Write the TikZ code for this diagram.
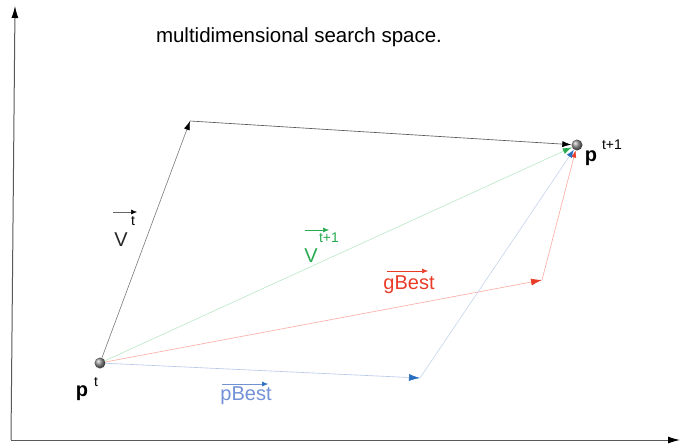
\documentclass[tikz,border=0pt]{standalone}
\usepackage{fontspec}
\setmainfont{Liberation Sans}
\usetikzlibrary{arrows.meta}
\definecolor{gtext}{RGB}{40,170,80}
\definecolor{gline}{RGB}{190,232,200}
\definecolor{rtext}{RGB}{232,60,40}
\definecolor{rline}{RGB}{250,175,165}
\definecolor{btext}{RGB}{115,145,215}
\definecolor{bhead}{RGB}{40,110,190}
\definecolor{bline}{RGB}{185,202,232}
\begin{document}
\begin{tikzpicture}[x=1pt,y=-1pt,
  axis/.style={draw=black!65,line width=1pt,-{Latex[length=12pt,width=7pt,black]}},
  vec/.style={line width=0.65pt,-{Latex[length=9pt,width=6pt]}},
  small/.style={line width=0.5pt,-{Latex[length=6pt,width=4pt]}},
  ball/.style={circle,inner sep=0pt,minimum size=11pt,ball color=black!45},
  lbl/.style={inner sep=0pt,font=\fontsize{20}{22}\selectfont},
  sup/.style={inner sep=0pt,font=\fontsize{14}{16}\selectfont}]
\useasboundingbox (0,0) rectangle (680,445);
% axes
\coordinate (o) at (11,440);
\coordinate (ytop) at (15,6);
\coordinate (xend) at (680,440);
\draw[axis] (o) -- (ytop);
\draw[axis] (o) -- (xend);
% title
\node[lbl,font=\fontsize{20.5}{22}\selectfont] (title) at (299,37) {multidimensional search space.};
% points
\node[ball] (pt) at (100,363) {};
\node[ball] (pt1) at (577,145) {};
\coordinate (c1) at (190,121);
\coordinate (c2) at (542,280);
\coordinate (c3) at (420,378);
% velocity t
\draw[vec,draw=black!50,-{Latex[length=9pt,width=6pt,black]}] (pt) -- (c1);
\draw[vec,draw=black!65,-{Latex[length=9pt,width=6pt,black]}] (c1) -- (pt1);
% velocity t+1
\draw[vec,draw=gline,-{Latex[length=9pt,width=6pt,gtext]}] (pt) -- (pt1);
% gBest
\draw[vec,draw=rline,-{Latex[length=11pt,width=7pt,rtext]}] (pt) -- (c2);
\draw[vec,draw=rline,-{Latex[length=7pt,width=5pt,rtext]}] (c2) -- (pt1);
% pBest
\draw[vec,draw=bline,-{Latex[length=11pt,width=7pt,bhead]}] (pt) -- (c3);
\draw[vec,draw=bline!80,-{Latex[length=8pt,width=6pt,bhead]}] (c3) -- (pt1);
% labels
\node[lbl,font=\bfseries\fontsize{20}{22}\selectfont] (ptl) at (82,393) {p};
\node[sup] (ptls) at (96,382) {t};
\node[lbl,font=\bfseries\fontsize{20}{22}\selectfont] (pt1l) at (591,158) {p};
\node[sup] (pt1ls) at (612,145) {t+1};
% V^t
\node[lbl,text=black!85] (vt) at (121,240) {V};
\coordinate (vta) at (113,212);
\coordinate (vtb) at (137,212);
\draw[small,draw=black!60,-{Latex[length=6pt,width=5pt,black]}] (vta) -- (vtb);
\node[sup] (vts) at (133,221) {t};
% V^{t+1}
\node[lbl,text=gtext] (vt1) at (311,256) {V};
\coordinate (vt1a) at (305,230);
\coordinate (vt1b) at (329,230);
\draw[small,draw=gtext,-{Latex[length=6pt,width=5pt,gtext]}] (vt1a) -- (vt1b);
\node[sup,text=gtext] (vt1s) at (329,238) {t+1};
% gBest
\node[lbl,text=rtext] (gb) at (409,285) {gBest};
\coordinate (gba) at (387,271);
\coordinate (gbb) at (428,271);
\draw[small,draw=rtext,-{Latex[length=6pt,width=5pt,rtext]}] (gba) -- (gbb);
% pBest
\node[lbl,text=btext] (pb) at (246,396) {pBest};
\coordinate (pba) at (222,384);
\coordinate (pbb) at (268,384);
\draw[small,draw=btext,-{Latex[length=6pt,width=5pt,bhead]}] (pba) -- (pbb);
\end{tikzpicture}
\end{document}
